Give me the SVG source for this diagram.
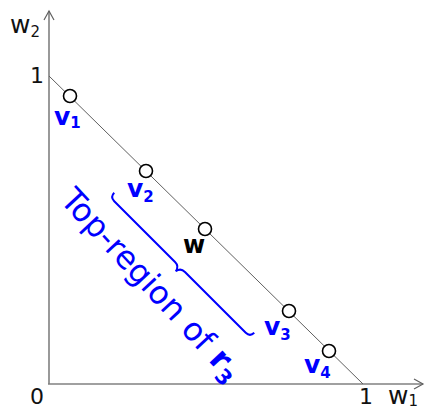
<svg xmlns="http://www.w3.org/2000/svg" width="428" height="409" viewBox="0 0 428 409">
<style>
.ax{stroke:#808080;stroke-width:1.6;fill:none}
.ah{stroke:#606060;stroke-width:1.2;fill:none}
.diag{stroke:#606060;stroke-width:1;fill:none}
.pt{fill:#fff;stroke:#000;stroke-width:1.6}
.lab{font-family:"DejaVu Sans",sans-serif;font-size:22px;fill:#111}
.wax{font-size:25px}
.vl{font-family:"DejaVu Sans",sans-serif;font-size:25px;font-weight:bold;fill:#0000ff}
.wl{font-family:"DejaVu Sans",sans-serif;font-size:24px;font-weight:bold;fill:#000}
.sub{font-size:15px}
.big{font-family:"DejaVu Sans",sans-serif;font-size:32px;fill:#0000ff}
</style>
<g id="axes">
<line class="ax" x1="49" y1="384" x2="49" y2="11"/>
<polyline class="ah" points="44,20 49,11 54,20"/>
<line class="ax" x1="48" y1="384" x2="423" y2="384"/>
<polyline class="ah" points="414,379 423,384 414,389"/>
<text class="lab wax" x="10" y="33">w<tspan class="sub" dy="4">2</tspan></text>
<text class="lab" x="30" y="83">1</text>
<text class="lab" x="30" y="404">0</text>
<text class="lab" x="359" y="404">1</text>
<text class="lab wax" x="388" y="404">w<tspan class="sub" dy="2">1</tspan></text>
</g>
<g id="connectors">
<line class="diag" x1="49" y1="76" x2="363" y2="384"/>
</g>
<g id="v1"><circle class="pt" cx="70" cy="96" r="6.5"/><text class="vl" x="54" y="125">v<tspan class="sub" dy="3">1</tspan></text></g>
<g id="v2"><circle class="pt" cx="146" cy="171" r="6.5"/><text class="vl" x="127" y="197">v<tspan class="sub" dy="5">2</tspan></text></g>
<g id="w"><circle class="pt" cx="205" cy="229" r="6.5"/><text class="wl" x="183" y="253">w</text></g>
<g id="v3"><circle class="pt" cx="289" cy="311" r="6.5"/><text class="vl" x="264" y="335">v<tspan class="sub" dy="5">3</tspan></text></g>
<g id="v4"><circle class="pt" cx="329" cy="351" r="6.5"/><text class="vl" x="304" y="373">v<tspan class="sub" dy="5">4</tspan></text></g>
<g id="top-region">
<path transform="translate(180,267) rotate(45)" d="M-99,-6 Q-99,0 -93,0 L-7,0 Q-1,0 0,6 Q1,0 7,0 L93,0 Q99,0 99,-6" fill="none" stroke="#0000ff" stroke-width="2"/>
<text class="big" transform="translate(59,201) rotate(47)">Top-region of <tspan font-weight="bold">r</tspan><tspan font-size="21" font-weight="bold" dy="7">3</tspan></text>
</g>
</svg>
